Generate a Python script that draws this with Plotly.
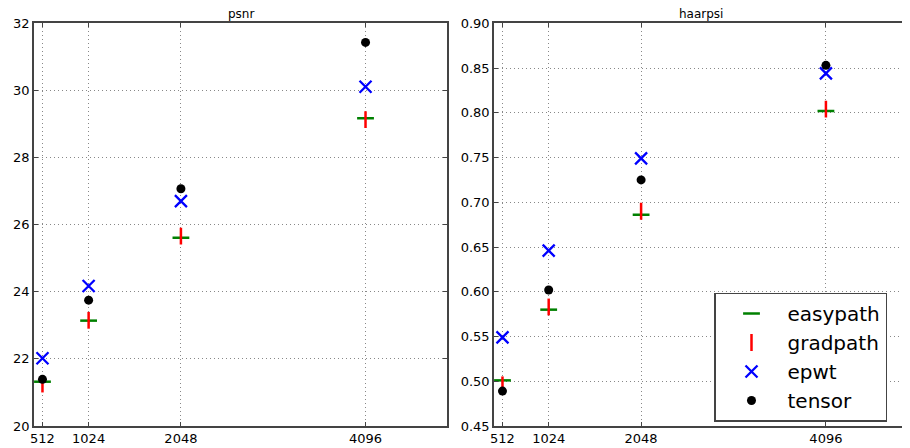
import plotly.graph_objects as go

sizes = [512, 1024, 2048, 4096]
tick_labels = ["512", "1024", "2048", "4096"]

psnr_easypath = [21.32, 23.14, 25.61, 29.17]
psnr_gradpath = [21.25, 23.15, 25.66, 29.13]
psnr_epwt = [22.02, 24.17, 26.70, 30.11]
psnr_tensor = [21.39, 23.75, 27.07, 31.43]

haar_easypath = [0.501, 0.580, 0.686, 0.802]
haar_gradpath = [0.496, 0.583, 0.690, 0.804]
haar_epwt = [0.549, 0.646, 0.749, 0.844]
haar_tensor = [0.489, 0.602, 0.725, 0.853]

psnr_ticks = [20, 22, 24, 26, 28, 30, 32]
haar_ticks = [0.45, 0.50, 0.55, 0.60, 0.65, 0.70, 0.75, 0.80, 0.85, 0.90]

fig = go.Figure()

def add_series(xa, ya, vals, show):
    e, g, p, t = vals
    fig.add_trace(go.Scatter(x=sizes, y=e, mode="markers", name="easypath", xaxis=xa, yaxis=ya,
                             showlegend=show,
                             marker=dict(symbol="line-ew", size=12, line=dict(color="green", width=2.5))))
    fig.add_trace(go.Scatter(x=sizes, y=g, mode="markers", name="gradpath", xaxis=xa, yaxis=ya,
                             showlegend=show,
                             marker=dict(symbol="line-ns", size=12, line=dict(color="red", width=2.5))))
    fig.add_trace(go.Scatter(x=sizes, y=p, mode="markers", name="epwt", xaxis=xa, yaxis=ya,
                             showlegend=show,
                             marker=dict(symbol="x-thin", size=12, line=dict(color="blue", width=2.3))))
    fig.add_trace(go.Scatter(x=sizes, y=t, mode="markers", name="tensor", xaxis=xa, yaxis=ya,
                             showlegend=show,
                             marker=dict(symbol="circle", size=9, color="black", line=dict(width=0))))

add_series("x", "y", (psnr_easypath, psnr_gradpath, psnr_epwt, psnr_tensor), False)
add_series("x2", "y2", (haar_easypath, haar_gradpath, haar_epwt, haar_tensor), True)

axis_common = dict(
    showline=True, linecolor="#444", linewidth=1.5, mirror="ticks",
    ticks="inside", ticklen=4, tickcolor="#444", tickwidth=1,
    showgrid=True, gridcolor="#888", griddash="1px,3px", gridwidth=1,
    zeroline=False, automargin=False,
    tickfont=dict(family="DejaVu Sans", size=13, color="black"),
)

# page has an 8px body margin; figure coordinates are page coordinates minus 8
W, H = 902, 440
fig.update_layout(
    width=W, height=H,
    margin=dict(l=0, r=0, t=0, b=0),
    paper_bgcolor="white", plot_bgcolor="white",
    font=dict(family="DejaVu Sans", color="black"),
    xaxis=dict(domain=[26 / W, 439 / W], range=[418, 5000], tickvals=sizes, ticktext=tick_labels, anchor="y", **axis_common),
    yaxis=dict(domain=[22 / H, 424.7 / H], range=[20, 32], tickvals=psnr_ticks, anchor="x", **axis_common),
    xaxis2=dict(domain=[486 / W, 899.5 / W], range=[418, 5000], tickvals=sizes, ticktext=tick_labels, anchor="y2", **axis_common),
    yaxis2=dict(domain=[22 / H, 424.7 / H], range=[0.45, 0.90], tickvals=haar_ticks, tickformat=".2f", anchor="x2", **axis_common),
    legend=dict(x=706 / W, y=(H - 349) / H, xanchor="left", yanchor="middle",
                bordercolor="#444", borderwidth=1.5, bgcolor="white",
                font=dict(family="DejaVu Sans", size=20, color="black"),
                itemsizing="trace", itemwidth=62, tracegroupgap=0),
    annotations=[
        dict(text="psnr", x=(26 + 439) / 2 / W, y=424.7 / H, xref="paper", yref="paper", xanchor="center", yanchor="bottom",
             showarrow=False, font=dict(family="DejaVu Sans", size=12, color="black"), yshift=0),
        dict(text="haarpsi", x=(486 + 899.5) / 2 / W, y=424.7 / H, xref="paper", yref="paper", xanchor="center", yanchor="bottom",
             showarrow=False, font=dict(family="DejaVu Sans", size=12, color="black"), yshift=0),
    ],
)

fig.write_html("out.html")
